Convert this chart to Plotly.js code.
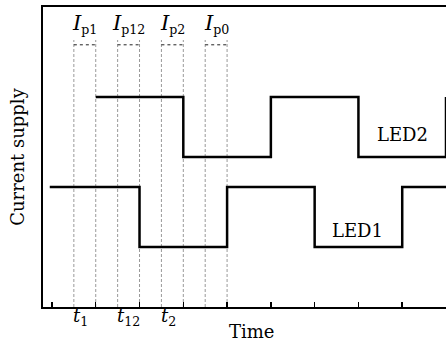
<!DOCTYPE html>
<html><head><meta charset="utf-8">
<script src="https://cdn.plot.ly/plotly-3.0.1.min.js"></script>
<style>html,body{margin:0;padding:0;background:#fff}#c{width:446px;height:342px}</style>
</head><body><div id="c"></div>
<script>
// step signals (x in time units, y in current units)
const led1X = [-0.05, 2, 4, 6, 8, 9.3];
const led1Y = [2, 1, 2, 1, 2, 2];
const led2X = [1, 3, 5, 7, 9];
const led2Y = [3.5, 2.5, 3.5, 2.5, 3.5];
// pulse windows (start, end) and their labels
const pulseStart = [0.5, 1.5, 2.5, 3.5];
const pulseEnd = [1, 2, 3, 4];
const pulseLabels = ['p1', 'p12', 'p2', 'p0'];
const timeLabels = ['1', '12', '2'];
const curveLabels = ['LED1', 'LED2'];
const curveLabelX = [6.97, 8.0];
const curveLabelY = [1.27, 2.88];
const guideTop = 4.45;
const bracketY = 4.37;

const FONT = 'DejaVu Serif, Liberation Serif, serif';
const traces = [];
// vertical dashed guides
const gx = [], gy = [];
pulseStart.forEach((s, i) => {
  [s, pulseEnd[i]].forEach(v => { gx.push(v, v, null); gy.push(0, guideTop, null); });
});
traces.push({x: gx, y: gy, mode: 'lines', line: {color: '#999', width: 1, dash: '3px,2px'}, hoverinfo: 'skip'});
// dotted brackets
const bx = [], by = [];
pulseStart.forEach((s, i) => { bx.push(s, pulseEnd[i], null); by.push(bracketY, bracketY, null); });
traces.push({x: bx, y: by, mode: 'lines', line: {color: '#222', width: 1, dash: 'dot'}, hoverinfo: 'skip'});
traces.push({x: led1X, y: led1Y, mode: 'lines', line: {shape: 'hv', color: '#000', width: 2.5}});
traces.push({x: led2X, y: led2Y, mode: 'lines', line: {shape: 'hv', color: '#000', width: 2.5}});

const ann = [];
pulseLabels.forEach((p, i) => {
  ann.push({x: (pulseStart[i] + pulseEnd[i]) / 2, y: 4.72, xref: 'x', yref: 'y', showarrow: false,
    text: '<span style="font-size:21px"><i>I</i></span><sub>' + p + '</sub>', font: {family: FONT, size: 18, color: '#000'}});
});
timeLabels.forEach((t, i) => {
  ann.push({x: pulseStart[i] - 0.06, y: 0.012, xref: 'x', yref: 'paper', xanchor: 'left', yanchor: 'top', showarrow: false,
    text: '<i>t</i><sub>' + t + '</sub>', font: {family: FONT, size: 18, color: '#000'}});
});
curveLabels.forEach((l, i) => {
  ann.push({x: curveLabelX[i], y: curveLabelY[i], xref: 'x', yref: 'y', showarrow: false,
    text: l, font: {family: FONT, size: 18, color: '#000'}});
});
ann.push({x: 4.55, y: -0.083, xref: 'x', yref: 'paper', xanchor: 'center', yanchor: 'middle', showarrow: false, text: 'Time',
  font: {family: FONT, size: 18, color: '#000'}});

const layout = {
  width: 446, height: 342,
  margin: {l: 43, r: 0, t: 7, b: 35},
  paper_bgcolor: '#fff', plot_bgcolor: '#fff',
  showlegend: false,
  font: {family: FONT, color: '#000'},
  xaxis: {range: [-0.2045, 9.0], showgrid: false, zeroline: false, showline: true, mirror: true,
    linecolor: '#000', linewidth: 2, ticks: 'inside', ticklen: 5, tickwidth: 1.5, tickcolor: '#000',
    tickmode: 'linear', tick0: 0, dtick: 1, showticklabels: false},
  yaxis: {range: [0, 5], showgrid: false, zeroline: false, showline: true, linecolor: '#000', linewidth: 2,
    ticks: '', showticklabels: false,
    title: {text: 'Current supply', font: {family: FONT, size: 18}, standoff: 12}},
  annotations: ann
};
Plotly.newPlot('c', traces, layout, {displayModeBar: false, staticPlot: true});
</script></body></html>
